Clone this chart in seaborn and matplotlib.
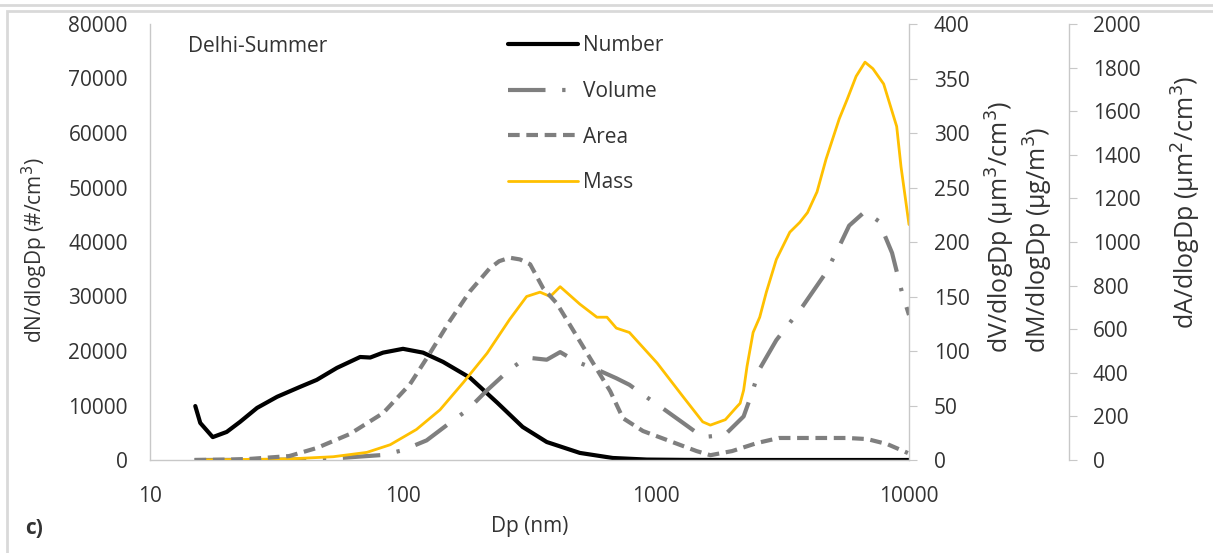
import matplotlib
matplotlib.use('Agg')
import matplotlib.pyplot as plt
import seaborn as sns
from matplotlib.patches import Rectangle

# size distributions, Delhi summer
dp_number = [15.1, 15.8, 17.7, 20.1, 22.7, 26.5, 31.8, 39.1, 45.6, 54.8, 67.7, 74.2, 83.4, 100, 120,
             144, 184, 236, 297, 370, 500, 675, 920, 1300, 2000, 4000, 10000]
number = [9900, 6800, 4200, 5150, 7000, 9560, 11600, 13400, 14700, 16900, 18900, 18800, 19700, 20400, 19700,
          18000, 15100, 10500, 6070, 3300, 1300, 370, 80, 20, 0, 0, 0]

dp_volume = [15, 30, 50, 83, 100, 124, 153, 180, 215, 264, 308, 370, 418, 487, 584, 697, 785, 888,
             1040, 1280, 1530, 1870, 2220, 2400, 2560, 2990, 3800, 4700, 5400, 5800, 6700, 7600, 8570,
             9400, 10000]
volume = [0, 0.2, 1, 4.6, 9, 18, 34, 46, 64, 83, 94, 92, 99, 90, 83, 75, 69, 60,
          49, 34, 21, 23, 40, 62, 83, 110, 141, 172, 200, 215, 228, 219, 190,
          153, 133]

dp_area = [15, 20, 24.8, 35.5, 45.6, 61.6, 83.4, 106.6, 127, 153, 184, 220, 240, 264, 290, 318, 358, 405,
           455, 549, 659, 740, 888, 1133, 1446, 1640, 2000, 2510, 3060, 4040, 5700, 6840, 8200, 9900]
area = [0, 2, 5, 18, 55, 119, 215, 348, 485, 637, 774, 879, 912, 928, 920, 898, 788, 719,
        623, 467, 316, 192, 133, 87, 41, 22, 41, 78, 101, 101, 101, 96, 73, 32]

dp_mass = [15.3, 35.5, 53, 72, 89, 113, 140, 173, 215, 264, 308, 348, 382, 418, 500, 584, 640, 697, 785,
           1010, 1280, 1530, 1640, 1880, 2090, 2150, 2220, 2290, 2420, 2570, 2730, 2990, 3380, 3700,
           3970, 4330, 4700, 5300, 5700, 6180, 6700, 7200, 7940, 8940, 9300, 10000]
mass = [0, 1, 3, 7, 14, 28, 46, 71, 98, 129, 150, 154, 150, 159, 143, 131, 131, 121, 117,
        89, 58, 35, 32, 37, 49, 52, 64, 86, 117, 131, 154, 184, 209, 218,
        227, 246, 276, 313, 331, 352, 365, 359, 345, 306, 269, 216]

x_ticks = [10, 100, 1000, 10000]

sns.set_style('white')
plt.rcParams['font.family'] = ['Open Sans', 'DejaVu Sans']
fs = 15
txt = '#333333'
grid_gray = '#c8c8c8'
gray = '#7f7f7f'
gold = '#ffc000'

fig = plt.figure(figsize=(12.13, 5.53), dpi=100)
ax = fig.add_axes([150 / 1213, 1 - 460 / 553, 759 / 1213, 436 / 553])
ax2 = ax.twinx()
ax3 = ax.twinx()
ax3.spines['right'].set_position(('axes', 1.2108))

sns.lineplot(x=dp_number, y=number, ax=ax, color='black', lw=3, label='Number', legend=False)
sns.lineplot(x=dp_volume, y=volume, ax=ax2, color=gray, lw=3, linestyle=(0, (9, 4, 0.8, 4)),
             label='Volume', legend=False)
sns.lineplot(x=dp_mass, y=mass, ax=ax2, color=gold, lw=2, label='Mass', legend=False)
sns.lineplot(x=dp_area, y=area, ax=ax3, color=gray, lw=3, linestyle=(0, (2.8, 1.6)),
             label='Area', legend=False)

ax.set_xscale('log')
ax.set_xlim(10, 10000)
ax.set_xticks(x_ticks)
ax.set_xticklabels([str(t) for t in x_ticks])
ax.minorticks_off()
ax.set_ylim(0, 80000)
ax.set_yticks(range(0, 80001, 10000))
ax2.set_ylim(0, 400)
ax2.set_yticks(range(0, 401, 50))
ax3.set_ylim(0, 2000)
ax3.set_yticks(range(0, 2001, 200))

for a in (ax, ax2, ax3):
    for s in a.spines.values():
        s.set_visible(False)
        s.set_color(grid_gray)
        s.set_linewidth(1)
ax.spines['left'].set_visible(True)
ax.spines['bottom'].set_visible(True)
ax2.spines['right'].set_visible(True)
ax3.spines['right'].set_visible(True)

ax.tick_params(axis='y', length=0, pad=16, colors=txt, labelsize=fs)
ax.tick_params(axis='x', which='both', length=0, pad=19, colors=txt, labelsize=fs)
ax2.tick_params(axis='y', length=6, color=grid_gray, pad=12, labelcolor=txt, labelsize=fs)
ax3.tick_params(axis='y', length=6, color=grid_gray, pad=11, labelcolor=txt, labelsize=fs)

ax.set_xlabel('Dp (nm)', color=txt, fontsize=fs, labelpad=6)
ax.set_ylabel('dN/dlogDp (#/cm$^3$)', color=txt, fontsize=fs)
ax.yaxis.set_label_coords(-0.132, 0.48)
ax2.set_ylabel('dV/dlogDp (µm$^3$/cm$^3$)\ndM/dlogDp (µg/m$^3$)', color=txt, fontsize=18,
               multialignment='left', linespacing=1.2)
ax2.yaxis.set_label_coords(1.098, 0.534)
ax3.set_ylabel('dA/dlogDp (µm$^2$/cm$^3$)', color=txt, fontsize=18)
ax3.yaxis.set_label_coords(1.343, 0.59)

handles = []
labels = []
for a in (ax, ax2, ax3):
    h, l = a.get_legend_handles_labels()
    handles += h
    labels += l
order = ['Number', 'Volume', 'Area', 'Mass']
hmap = dict(zip(labels, handles))
leg = fig.legend([hmap[k] for k in order], order, loc='upper left', bbox_to_anchor=(498 / 1213, 1 - 25 / 553),
                 frameon=False, borderpad=0, handlelength=3.35, handletextpad=0.25, labelspacing=1.18,
                 fontsize=fs)
for t in leg.get_texts():
    t.set_color(txt)

fig.text(188 / 1213, 1 - 47 / 553, 'Delhi-Summer', color=txt, fontsize=fs, va='center', ha='left')
fig.text(25 / 1213, 1 - 528 / 553, 'c)', color=txt, fontsize=fs, fontweight='bold', va='center', ha='left')

# chart frame like the Excel export
fig.patches.append(Rectangle((7 / 1213, -0.1), 1.2, 1 - 11 / 553 + 0.1, transform=fig.transFigure,
                             fill=False, edgecolor='#d9d9d9', lw=2))
fig.patches.append(Rectangle((-0.1, 1 - 5 / 553), 1.2, 0.2, transform=fig.transFigure,
                             fill=False, edgecolor='#d9d9d9', lw=2))

fig.savefig('out.png', dpi=100)
